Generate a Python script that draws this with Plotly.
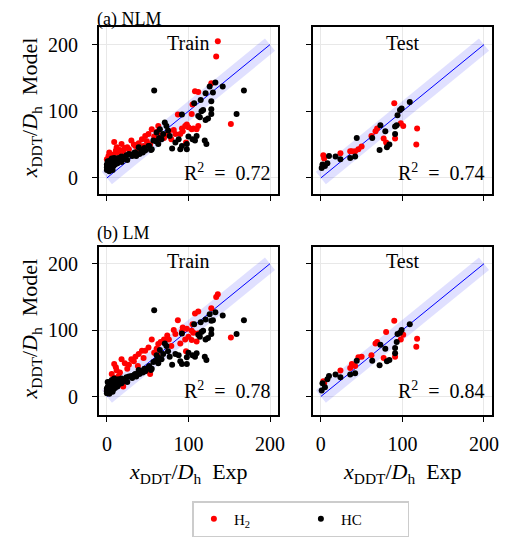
import plotly.graph_objects as go
from plotly.subplots import make_subplots

# x_DDT/D_h: experiment vs. model (NLM = non-linear model, LM = linear model)
train_h2_exp = [136, 134, 152, 128, 108, 112, 105, 104, 96, 100, 104, 110, 112, 87, 90, 84, 79, 63, 61, 55,
                51, 47, 49, 53, 30, 35, 27, 18, 12, 11, 9, 2, 0, 6, 20, 22, 39, 43, 14, 16,
                5, 8, 25, 33, 58, 66, 70, 74, 82, 93, 97, 106, 3, 10, 38, 45, 62, 76, 98, 92]
train_h2_nlm = [205, 182, 81, 142, 130, 129, 110, 96, 78, 76, 73, 73, 78, 95, 66, 66, 58, 78, 69, 73,
                66, 63, 55, 50, 56, 48, 43, 51, 46, 41, 54, 33, 28, 26, 40, 45, 52, 58, 38, 42,
                30, 35, 46, 50, 62, 64, 60, 65, 72, 70, 53, 74, 38, 30, 44, 48, 56, 70, 80, 74]
train_h2_lm = [154, 150, 89, 133, 125, 128, 109, 99, 86, 90, 85, 83, 95, 115, 80, 94, 76, 79, 72, 86,
               74, 69, 39, 34, 56, 60, 48, 56, 39, 44, 49, 14, 9, 34, 15, 50, 64, 69, 30, 36,
               22, 25, 42, 53, 66, 82, 86, 92, 100, 104, 68, 96, 20, 28, 46, 58, 62, 86, 102, 98]

train_hc_exp = [58, 168, 159, 133, 126, 142, 130, 121, 115, 128, 107, 118, 128, 128, 112, 124, 121, 92, 116, 114,
                110, 108, 120, 122, 98, 92, 98, 90, 84, 88, 71, 73, 65, 75, 61, 69, 77, 67, 57, 63,
                51, 55, 47, 39, 35, 27, 31, 21, 15, 6, 2, 0, 0, 1, 1, 2, 2, 3, 3, 4,
                4, 5, 5, 6, 6, 7, 8, 8, 9, 10, 10, 11, 12, 13, 14, 15, 16, 18, 18, 20,
                22, 24, 25, 30, 34, 36, 40, 42, 44, 46, 52, 54, 60, 64, 80, 100, 105, 3, 0, 1,
                7, 9]
train_hc_nlm = [131, 131, 96, 143, 137, 137, 128, 127, 117, 115, 112, 102, 103, 96, 93, 89, 87, 95, 100, 91,
                63, 56, 56, 51, 51, 48, 43, 43, 53, 58, 83, 78, 73, 71, 68, 66, 63, 58, 56, 51,
                48, 43, 41, 46, 38, 36, 33, 31, 28, 26, 21, 16, 12, 15, 20, 18, 24, 14, 22, 17,
                26, 19, 23, 15, 29, 21, 18, 25, 22, 20, 28, 24, 26, 22, 30, 25, 28, 24, 32, 28,
                30, 34, 27, 35, 38, 33, 36, 42, 38, 45, 48, 42, 55, 60, 44, 62, 58, 10, 20, 25,
                12, 30]
train_hc_lm = [130, 115, 94, 127, 124, 122, 115, 116, 112, 114, 109, 99, 101, 94, 93, 88, 86, 95, 97, 90,
               65, 60, 60, 55, 59, 49, 49, 53, 64, 62, 80, 76, 70, 68, 62, 64, 60, 56, 52, 50,
               44, 42, 38, 40, 34, 30, 28, 24, 20, 18, 12, 8, 5, 10, 14, 16, 20, 6, 18, 12,
               22, 10, 15, 8, 25, 17, 11, 19, 16, 13, 23, 18, 21, 15, 26, 19, 22, 20, 27, 23,
               25, 29, 22, 31, 33, 30, 34, 38, 36, 42, 46, 40, 54, 58, 48, 66, 62, 4, 12, 22,
               7, 27]

test_h2_exp = [3, 4, 24, 36, 38, 42, 46, 50, 62, 67, 69, 77, 80, 90, 91, 98, 101, 117, 118]
test_h2_nlm = [34, 29, 37, 40, 40, 40, 43, 47, 63, 70, 74, 59, 53, 112, 59, 82, 78, 50, 74]
test_h2_lm = [23, 20, 39, 43, 49, 46, 59, 60, 62, 80, 82, 58, 97, 114, 60, 86, 93, 75, 87]

test_hc_exp = [1, 2, 5, 8, 10, 18, 24, 36, 42, 44, 63, 72, 73, 79, 81, 84, 91, 91, 93, 94, 97, 99, 109]
test_hc_nlm = [15, 20, 18, 22, 33, 32, 28, 30, 32, 60, 60, 42, 79, 70, 46, 50, 66, 77, 79, 94, 102, 104, 114]
test_hc_lm = [9, 20, 14, 26, 31, 33, 29, 33, 35, 54, 54, 47, 78, 72, 53, 55, 65, 73, 82, 94, 96, 100, 109]

r2_nlm = [0.72, 0.74]
r2_lm = [0.78, 0.84]
parity = [0, 200]
tick_vals = [0, 100, 200]

FONT = "Liberation Serif"
# the page body adds an 8px margin, so the figure is 8px smaller and all
# positions below are given in window pixels and shifted back
W, H, OFF = 502, 529, 8


def fx(px):
    return (px - OFF) / W


def fy(py):
    return 1 - (py - OFF) / H


fig = make_subplots(rows=2, cols=2)

panels = [
    (1, 1, train_h2_exp, train_h2_nlm, train_hc_exp, train_hc_nlm, "Train", r2_nlm[0]),
    (1, 2, test_h2_exp, test_h2_nlm, test_hc_exp, test_hc_nlm, "Test", r2_nlm[1]),
    (2, 1, train_h2_exp, train_h2_lm, train_hc_exp, train_hc_lm, "Train", r2_lm[0]),
    (2, 2, test_h2_exp, test_h2_lm, test_hc_exp, test_hc_lm, "Test", r2_lm[1]),
]

for i, (row, col, hx, hy, cx, cy, label, r2) in enumerate(panels):
    first = i == 0
    # uncertainty band and parity line
    fig.add_trace(go.Scatter(x=parity, y=parity, mode="lines",
                             line=dict(color="rgba(0,0,255,0.12)", width=16),
                             showlegend=False, hoverinfo="skip"), row=row, col=col)
    fig.add_trace(go.Scatter(x=parity, y=parity, mode="lines",
                             line=dict(color="blue", width=1),
                             showlegend=False, hoverinfo="skip"), row=row, col=col)
    fig.add_trace(go.Scatter(x=hx, y=hy, mode="markers", name="H<sub>2</sub>",
                             marker=dict(color="red", size=6), showlegend=first),
                  row=row, col=col)
    fig.add_trace(go.Scatter(x=cx, y=cy, mode="markers", name="HC",
                             marker=dict(color="black", size=6), showlegend=first),
                  row=row, col=col)

    n = "" if i == 0 else str(i + 1)
    ty = 0.905 if row == 1 else 0.917
    ry = 0.133 if row == 1 else 0.154
    fig.add_annotation(text=label, xref=f"x{n} domain", yref=f"y{n} domain",
                       x=0.5, y=ty, xanchor="center", yanchor="middle",
                       showarrow=False, font=dict(size=20))
    fig.add_annotation(text=f"R<sup>2</sup>  =  {r2:.2f}", xref=f"x{n} domain", yref=f"y{n} domain",
                       x=0.97, y=ry, xanchor="right", yanchor="middle",
                       showarrow=False, font=dict(size=20))

x_domains = [[fx(100), fx(282)], [fx(317), fx(499)]]
y_domains = [[fy(195), fy(27)], [fy(417), fy(248)]]
y_ranges = [[-24.5, 226.5], [-28.5, 225]]

for row in (1, 2):
    for col in (1, 2):
        fig.update_xaxes(domain=x_domains[col - 1], range=[-10, 210], tickvals=tick_vals,
                         showticklabels=(row == 2), row=row, col=col)
        fig.update_yaxes(domain=y_domains[row - 1], range=y_ranges[row - 1], tickvals=tick_vals,
                         showticklabels=(col == 1), row=row, col=col)

axis_style = dict(showline=True, linecolor="black", linewidth=1.5, mirror=True,
                  ticks="outside", ticklen=5, tickwidth=1.2, tickcolor="black",
                  showgrid=True, gridcolor="#e8e8e8", gridwidth=1, zeroline=False,
                  tickfont=dict(size=20, color="black"))
fig.update_xaxes(ticklabelstandoff=5, **axis_style)
fig.update_yaxes(ticklabelstandoff=10, **axis_style)

ylab = "<i>x</i><sub>DDT</sub>/<i>D</i><sub>h</sub>  Model"
xlab = "<i>x</i><sub>DDT</sub>/<i>D</i><sub>h</sub>  Exp"
for yc in (108, 330):
    fig.add_annotation(text=ylab, xref="paper", yref="paper", x=fx(31), y=fy(yc),
                       xanchor="center", yanchor="middle", textangle=-90,
                       showarrow=False, font=dict(size=22))
for xc in (191, 408):
    fig.add_annotation(text=xlab, xref="paper", yref="paper", x=fx(xc), y=fy(475),
                       xanchor="center", yanchor="middle",
                       showarrow=False, font=dict(size=22))

for label, yc in (("(a) NLM", 20), ("(b) LM", 234)):
    fig.add_annotation(text=label, xref="paper", yref="paper", x=fx(96), y=fy(yc),
                       xanchor="left", yanchor="middle", showarrow=False, font=dict(size=18))

fig.update_layout(
    width=W, height=H,
    margin=dict(l=0, r=0, t=0, b=0),
    paper_bgcolor="white", plot_bgcolor="white",
    font=dict(family=FONT, color="black", size=20),
    legend=dict(orientation="h", x=fx(195), y=fy(521), xanchor="left", yanchor="middle",
                bordercolor="#cccccc", borderwidth=1.5, bgcolor="white",
                font=dict(size=15), entrywidth=62),
)

fig.write_html("out.html")
